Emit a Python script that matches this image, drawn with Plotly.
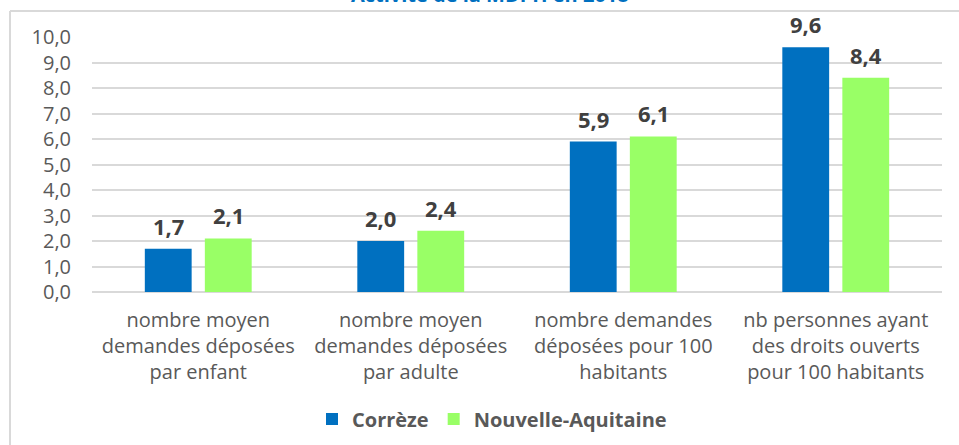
import plotly.graph_objects as go

categories = [
    "nombre moyen<br>demandes déposées<br>par enfant",
    "nombre moyen<br>demandes déposées<br>par adulte",
    "nombre demandes<br>déposées pour 100<br>habitants",
    "nb personnes ayant<br>des droits ouverts<br>pour 100 habitants",
]
correze = [1.7, 2.0, 5.9, 9.6]
nouvelle_aquitaine = [2.1, 2.4, 6.1, 8.4]
title_text = "Activité de la MDPH en 2018"

BLUE = "#0070C0"
GREEN = "#99FF66"
GRID = "#D9D9D9"
TXT = "#595959"
FONT = "Open Sans"

W, H = 959, 445
ML, MR, MT, MB = 92, 17, 37, 153
PW, PH = W - ML - MR, H - MT - MB

def px_x(p):
    return (p - ML) / PW

def px_y(p):
    return 1 + (MT - p) / PH

fig = go.Figure()
fig.add_trace(go.Bar(x=categories, y=correze, name="Corrèze",
                     marker=dict(color=BLUE, line=dict(width=0))))
fig.add_trace(go.Bar(x=categories, y=nouvelle_aquitaine, name="Nouvelle-Aquitaine",
                     marker=dict(color=GREEN, line=dict(width=0))))

def fmt(v):
    return f"{v:.1f}".replace(".", ",")

annotations = []
for series, shift in ((correze, -30), (nouvelle_aquitaine, 30)):
    for c, v in zip(categories, series):
        annotations.append(dict(
            x=c, y=v, xref="x", yref="y", text=fmt(v), showarrow=False,
            xshift=shift, yshift=6, yanchor="bottom",
            font=dict(family=FONT, size=22, color="#404040", weight="bold"),
        ))

annotations.append(dict(
    x=px_x(490), y=px_y(10), xref="paper", yref="paper", text=title_text,
    showarrow=False, xanchor="center", yanchor="bottom",
    font=dict(family=FONT, size=20, color=BLUE, weight="bold"),
))

shapes = [
    dict(type="line", xref="paper", yref="paper", x0=px_x(10), x1=px_x(10),
         y0=px_y(11), y1=px_y(H + 5), line=dict(color=GRID, width=2)),
    dict(type="line", xref="paper", yref="paper", x0=px_x(10), x1=px_x(W + 5),
         y0=px_y(11), y1=px_y(11), line=dict(color=GRID, width=2)),
]

fig.update_layout(
    width=W, height=H,
    margin=dict(l=ML, r=MR, t=MT, b=MB, pad=0, autoexpand=False),
    paper_bgcolor="white", plot_bgcolor="white",
    barmode="group", bargap=0.435, bargroupgap=0.22,
    separators=", ",
    font=dict(family=FONT, color=TXT),
    showlegend=True,
    legend=dict(orientation="h", x=px_x(492), xanchor="center",
                y=px_y(419), yanchor="middle",
                font=dict(family=FONT, size=20, color=TXT, weight="bold"),
                itemwidth=30, traceorder="normal"),
    annotations=annotations,
    shapes=shapes,
)
fig.update_yaxes(range=[0, 10], dtick=1, tickformat=".1f", automargin=False,
                 showgrid=True, gridcolor=GRID, gridwidth=1.5,
                 zeroline=True, zerolinecolor=GRID, zerolinewidth=1.5,
                 showline=False, ticks="", ticklabelstandoff=20,
                 tickfont=dict(family=FONT, size=20, color=TXT))
fig.update_xaxes(showline=False, ticks="", showgrid=False, automargin=False,
                 ticklabelstandoff=14,
                 tickfont=dict(family=FONT, size=20, color=TXT))

fig.write_html("out.html",
               config={"displayModeBar": False},
               post_script="document.body.style.margin='0';document.body.style.overflow='hidden';")
